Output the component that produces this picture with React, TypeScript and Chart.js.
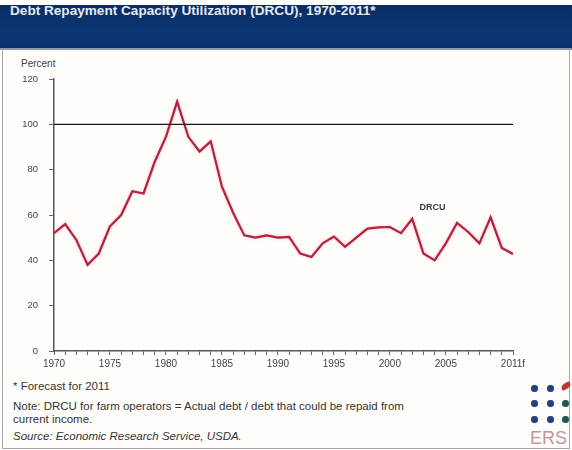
import React, { useEffect, useRef } from "react";
import { Chart, registerables } from "chart.js";

Chart.register(...registerables);

const years = [
  1970, 1971, 1972, 1973, 1974, 1975, 1976, 1977, 1978, 1979,
  1980, 1981, 1982, 1983, 1984, 1985, 1986, 1987, 1988, 1989,
  1990, 1991, 1992, 1993, 1994, 1995, 1996, 1997, 1998, 1999,
  2000, 2001, 2002, 2003, 2004, 2005, 2006, 2007, 2008, 2009,
  2010, 2011,
];
const drcu = [
  52, 56, 49, 38, 43, 55, 60, 70.5, 69.5, 83.5,
  94.5, 110, 94.5, 88, 92.5, 72.5, 61, 51, 50, 51,
  50, 50.3, 43, 41.5, 47.5, 50.5, 46, 50, 54, 54.5,
  54.7, 52, 58.3, 43, 40, 47.5, 56.5, 52.5, 47.5, 59,
  45.5, 42.8,
];
const referenceValue = 100;
const yTicks = [0, 20, 40, 60, 80, 100, 120];
const labeledYears = [1970, 1975, 1980, 1985, 1990, 1995, 2000, 2005, 2011];
const forecastYear = 2011;
const seriesLabel = "DRCU";
const seriesLabelAt = { x: 2003.8, y: 63.5 };

const FONT = '"Liberation Sans", Arial, Helvetica, sans-serif';

export default function App() {
  const canvasRef = useRef<HTMLCanvasElement | null>(null);

  useEffect(() => {
    const canvas = canvasRef.current;
    if (!canvas) return;
    const labelPlugin = {
      id: "seriesLabel",
      beforeDatasetDraw(chart: any, args: any) {
        if (args.index === 1) {
          chart.ctx.save();
          chart.ctx.shadowColor = "rgba(235,120,140,0.55)";
          chart.ctx.shadowBlur = 3;
        }
      },
      afterDatasetDraw(chart: any, args: any) {
        if (args.index === 1) chart.ctx.restore();
      },
      afterDatasetsDraw(chart: any) {
        const { ctx, scales } = chart;
        const px = scales.x.getPixelForValue(seriesLabelAt.x);
        const py = scales.y.getPixelForValue(seriesLabelAt.y);
        ctx.save();
        ctx.font = `bold 9px ${FONT}`;
        ctx.fillStyle = "#3a3a3a";
        ctx.textAlign = "center";
        ctx.textBaseline = "middle";
        ctx.fillText(seriesLabel, px, py);
        ctx.restore();
      },
    };
    const chart = new Chart(canvas, {
      type: "line",
      data: {
        datasets: [
          {
            label: "Reference",
            data: [
              { x: years[0], y: referenceValue },
              { x: years[years.length - 1], y: referenceValue },
            ],
            borderColor: "#1a1a1a",
            borderWidth: 1.2,
            pointRadius: 0,
            tension: 0,
          },
          {
            label: seriesLabel,
            data: years.map((yr, i) => ({ x: yr, y: drcu[i] })),
            borderColor: "#b3213d",
            borderWidth: 2.2,
            pointRadius: 0,
            tension: 0,
          },
        ],
      },
      options: {
        responsive: false,
        animation: false,
        devicePixelRatio: 1,
        layout: { padding: { left: 0, right: 59, top: 24, bottom: 0 } },
        plugins: {
          legend: { display: false },
          tooltip: { enabled: false },
        },
        scales: {
          x: {
            type: "linear",
            min: years[0],
            max: years[years.length - 1],
            afterFit: (s: any) => {
              s.height = 24;
            },
            afterBuildTicks: (s: any) => {
              s.ticks = years.map((v) => ({ value: v }));
            },
            ticks: {
              autoSkip: false,
              maxRotation: 0,
              minRotation: 0,
              padding: 3,
              color: "#444",
              font: { family: FONT, size: 10 },
              callback: (v: any) => {
                const n = Number(v);
                if (!labeledYears.includes(n)) return "";
                return n === forecastYear ? `${n}f` : String(n);
              },
            },
            grid: {
              drawOnChartArea: false,
              drawTicks: true,
              tickLength: 4,
              color: "#666",
            },
            border: { display: true, color: "#555", width: 1.5 },
          },
          y: {
            min: 0,
            max: 120,
            afterFit: (s: any) => {
              s.width = 54;
            },
            afterBuildTicks: (s: any) => {
              s.ticks = yTicks.map((v) => ({ value: v }));
            },
            ticks: {
              padding: 11,
              color: "#444",
              font: { family: FONT, size: 9.5 },
            },
            grid: {
              drawOnChartArea: false,
              drawTicks: true,
              tickLength: 5,
              color: "#666",
            },
            border: { display: true, color: "#555", width: 1.5 },
          },
        },
      },
      plugins: [labelPlugin],
    } as any);
    return () => chart.destroy();
  }, []);

  const dot = (left: number, top: number, color: string) => (
    <div
      key={`${left}-${top}`}
      style={{
        position: "absolute",
        left: left - 3,
        top: top - 3,
        width: 6.5,
        height: 6.5,
        borderRadius: "50%",
        background: color,
      }}
    />
  );

  return (
    <div
      style={{
        position: "absolute",
        left: 0,
        top: 0,
        width: 572,
        height: 450,
        background: "#ffffff",
        fontFamily: FONT,
        overflow: "hidden",
      }}
    >
      <div
        style={{
          position: "absolute",
          left: 0,
          top: 5,
          width: 572,
          height: 43,
          background: "linear-gradient(#0a2d62, #0b3775 70%, #0a3070)",
        }}
      />
      <div
        style={{
          position: "absolute",
          left: 10,
          top: 3,
          color: "#e6e9f2",
          fontWeight: "bold",
          fontSize: 13.6,
          whiteSpace: "nowrap",
        }}
      >
        Debt Repayment Capacity Utilization (DRCU), 1970-2011*
      </div>
      <div
        style={{
          position: "absolute",
          left: 0,
          top: 48,
          width: 572,
          height: 2,
          background: "#8e98a8",
        }}
      />
      <div
        style={{
          position: "absolute",
          left: 2,
          top: 50,
          width: 566,
          height: 398,
          borderLeft: "1px solid #a8a8a8",
          borderRight: "1px solid #a8a8a8",
          borderBottom: "1px solid #a8a8a8",
          background: "#fffefb",
        }}
      />
      <div
        style={{
          position: "absolute",
          left: 21,
          top: 58,
          fontSize: 10,
          color: "#444",
        }}
      >
        Percent
      </div>
      <canvas
        ref={canvasRef}
        width={572}
        height={320}
        style={{ position: "absolute", left: 0, top: 55, width: 572, height: 320 }}
      />
      <div style={{ position: "absolute", left: 13, top: 380, fontSize: 11.5, color: "#333" }}>
        * Forecast for 2011
      </div>
      <div
        style={{
          position: "absolute",
          left: 13,
          top: 400,
          width: 460,
          fontSize: 11.5,
          lineHeight: "12.5px",
          color: "#333",
        }}
      >
        Note: DRCU for farm operators = Actual debt / debt that could be repaid from
        <br />
        current income.
      </div>
      <div
        style={{
          position: "absolute",
          left: 13,
          top: 430,
          fontSize: 11.5,
          fontStyle: "italic",
          color: "#333",
        }}
      >
        Source: Economic Research Service, USDA.
      </div>
      {dot(534, 388, "#24407e")}
      {dot(550, 388, "#24407e")}
      <div
        style={{
          position: "absolute",
          left: 561,
          top: 383,
          width: 10,
          height: 6,
          borderRadius: "60% 10% 60% 10%",
          background: "#c0392f",
          transform: "rotate(-25deg)",
        }}
      />
      {dot(534, 403, "#24407e")}
      {dot(550, 403, "#24407e")}
      {dot(565, 403, "#1f5a5a")}
      {dot(534, 419, "#24407e")}
      {dot(550, 419, "#24407e")}
      {dot(565, 419, "#1f5a5a")}
      <div
        style={{
          position: "absolute",
          left: 530,
          top: 428,
          fontSize: 18,
          color: "#c4949c",
        }}
      >
        ERS
      </div>
    </div>
  );
}
